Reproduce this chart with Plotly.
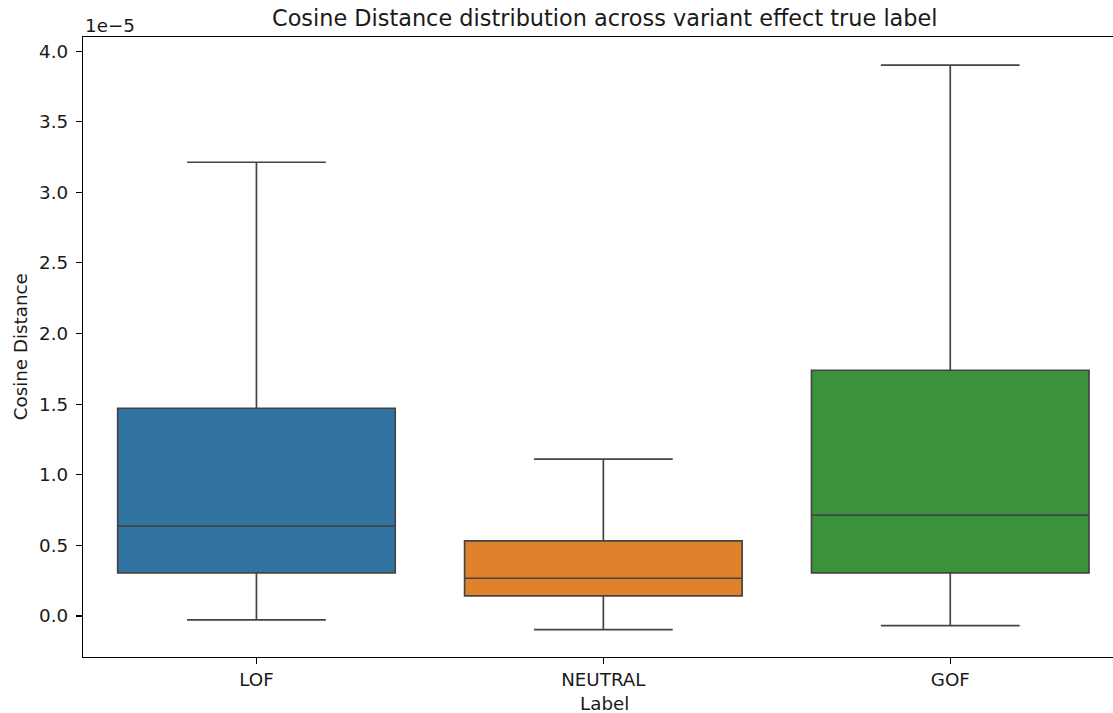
import numpy as np
import plotly.graph_objects as go

# ---- data (values in actual units, axis shown with 1e-5 offset) ----
categories = ["LOF", "NEUTRAL", "GOF"]
lower_whisker = [-0.028e-5, -0.097e-5, -0.068e-5]
q1_vals = [0.305e-5, 0.142e-5, 0.305e-5]
medians = [0.636e-5, 0.267e-5, 0.714e-5]
q3_vals = [1.471e-5, 0.532e-5, 1.740e-5]
upper_whisker = [3.213e-5, 1.111e-5, 3.901e-5]
box_colors = ["#3274a1", "#e1812c", "#3a923a"]
y_tick_labels = ["0.0", "0.5", "1.0", "1.5", "2.0", "2.5", "3.0", "3.5", "4.0"]
SCALE = 1e-5

FONT = "DejaVu Sans"
TICK_SIZE = 18.3
LINE_COLOR = "#444444"

fig = go.Figure()
for i, cat in enumerate(categories):
    fig.add_trace(go.Box(
        x=[cat],
        q1=[q1_vals[i]], median=[medians[i]], q3=[q3_vals[i]],
        lowerfence=[lower_whisker[i]], upperfence=[upper_whisker[i]],
        fillcolor=box_colors[i],
        line=dict(color=LINE_COLOR, width=1.7),
        width=0.8, whiskerwidth=0.5,
        boxpoints=False, showlegend=False, name=cat,
    ))

W, H = 1113, 713
L, T = 82.7, 37.3
bottom_px = 656.7
B = H - bottom_px
pw = W - L

tickvals = [float(t) * SCALE for t in y_tick_labels]
center_x_paper = (604.7 - L) / pw

fig.update_layout(
    width=W, height=H,
    margin=dict(l=L, r=0, t=T, b=B, pad=0),
    plot_bgcolor="white", paper_bgcolor="white",
    font=dict(family=FONT, size=TICK_SIZE, color="#000000"),
    hovermode=False,
    xaxis=dict(
        type="category", categoryorder="array", categoryarray=categories,
        range=[-0.5, -0.5 + pw / 347.0],
        showline=True, linecolor="black", linewidth=1.2, mirror=True,
        ticks="outside", ticklen=6, tickwidth=1.1, tickcolor="black",
        showgrid=False, zeroline=False,
        tickfont=dict(family=FONT, size=TICK_SIZE, color="#1a1a1a"),
    ),
    yaxis=dict(
        range=[-0.2906 * SCALE, 4.100 * SCALE],
        tickvals=tickvals, ticktext=y_tick_labels,
        showline=True, linecolor="black", linewidth=1.2, mirror=False,
        ticks="outside", ticklen=6, tickwidth=1.1, tickcolor="black",
        ticklabelstandoff=4,
        showgrid=False, zeroline=False,
        tickfont=dict(family=FONT, size=TICK_SIZE, color="#1a1a1a"),
    ),
    annotations=[
        dict(text="Cosine Distance distribution across variant effect true label",
             xref="paper", yref="paper", x=center_x_paper, y=1,
             xanchor="center", yanchor="bottom", yshift=4, showarrow=False,
             font=dict(family=FONT, size=22.4, color="#1a1a1a")),
        dict(text="1e\u22125", xref="paper", yref="paper", x=0, y=1,
             xanchor="left", yanchor="bottom", yshift=-1, showarrow=False,
             font=dict(family=FONT, size=TICK_SIZE, color="#1a1a1a")),
        dict(text="Cosine Distance", xref="paper", yref="paper",
             x=(20 - L) / pw, y=0.5, xanchor="center", yanchor="middle",
             textangle=-90, showarrow=False,
             font=dict(family=FONT, size=TICK_SIZE, color="#1a1a1a")),
        dict(text="Label", xref="paper", yref="paper",
             x=center_x_paper, y=0, xanchor="center", yanchor="middle",
             yshift=-(703 - bottom_px), showarrow=False,
             font=dict(family=FONT, size=TICK_SIZE, color="#1a1a1a")),
    ],
)

# remove the default page margin so the figure sits at the window's top-left corner
fig.write_html(
    "out.html",
    config={"displayModeBar": False, "staticPlot": True},
    post_script="document.body.style.margin='0';document.body.style.overflow='hidden';",
)
